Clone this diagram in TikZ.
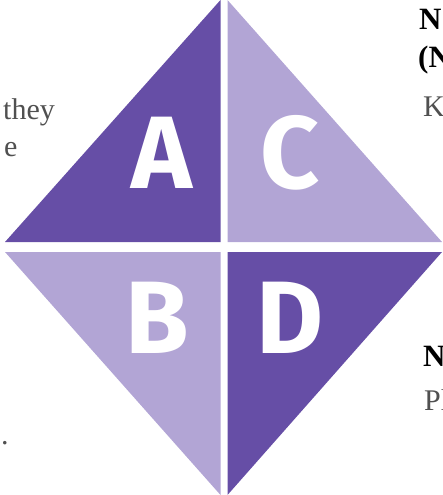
\documentclass[tikz,border=0pt]{standalone}
\usepackage{fontspec}
\setmainfont{Liberation Serif}
\newfontfamily\letterfont{Fira Sans}[UprightFont=* Bold]
\definecolor{darkp}{HTML}{664EA6}
\definecolor{lightp}{HTML}{B2A5D5}
\definecolor{bodygrey}{HTML}{505050}
\begin{document}
\begin{tikzpicture}[x=1pt,y=-1pt,
  quad/.style={draw=none},
  letter/.style={anchor=base,text=white,font=\letterfont\fontsize{103}{103}\selectfont,inner sep=0pt},
  body/.style={anchor=base west,text=bodygrey,font=\fontsize{30}{34}\selectfont,inner sep=0pt},
  head/.style={anchor=base west,text=black,font=\bfseries\fontsize{31}{35}\selectfont,inner sep=0pt}]
\useasboundingbox (0,0) rectangle (442,495);
\clip (0,0) rectangle (442,495);
\fill[darkp,quad] (5,242) -- (220.5,242) -- (220.5,0) -- cycle;
\fill[lightp,quad] (227.5,0) -- (227.5,242) -- (442,242) -- cycle;
\fill[lightp,quad] (5,252) -- (220.5,252) -- (220.5,495) -- cycle;
\fill[darkp,quad] (227.5,252) -- (442,252) -- (227.5,495) -- cycle;
\node[letter] (la) at (162,188) {A};
\node[letter] (lc) at (290,188) {C};
\node[letter] (lb) at (157,353) {B};
\node[letter] (ld) at (290,353) {D};
\node[body] (t1) at (3,119) {they};
\node[body] (t2) at (4,156) {e};
\node[body] (t3) at (1,444) {.};
\node[head] (h1) at (419,30) {N};
\node[head] (h2) at (418,67) {(N};
\node[body] (k1) at (423,116) {K};
\node[head] (h3) at (423,366) {N};
\node[body] (p1) at (424,410) {Pl};
\end{tikzpicture}
\end{document}
